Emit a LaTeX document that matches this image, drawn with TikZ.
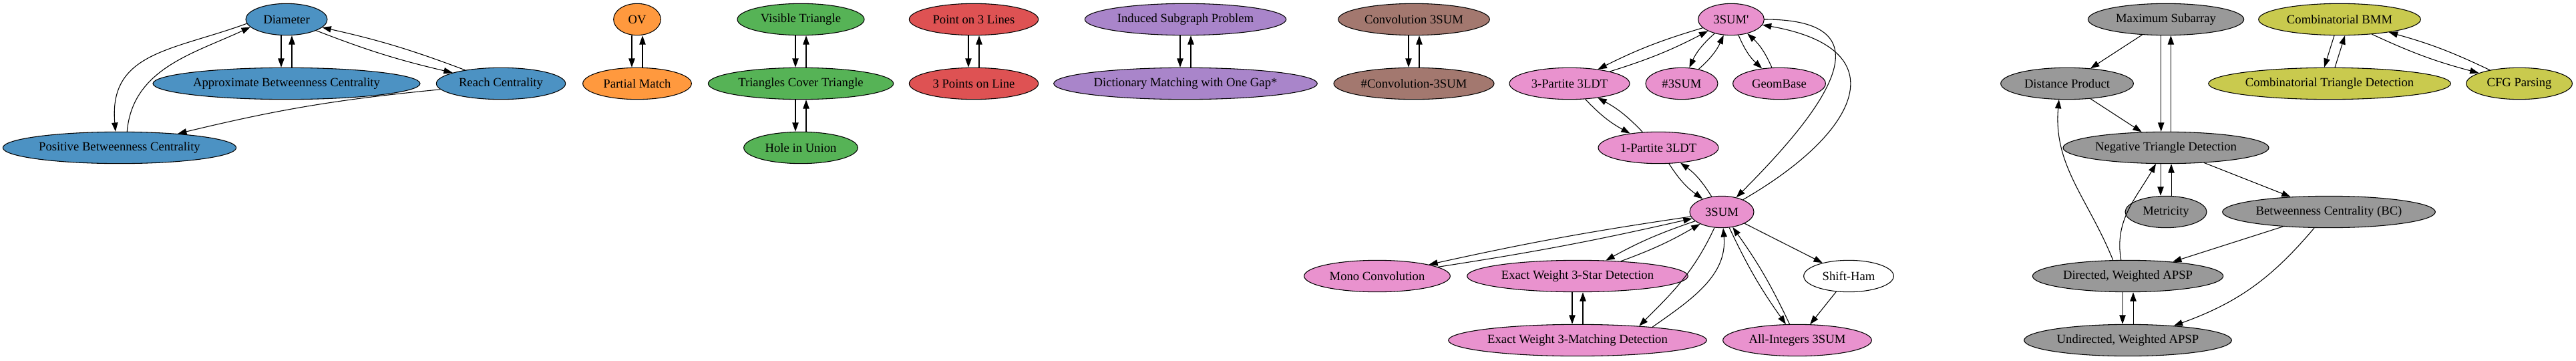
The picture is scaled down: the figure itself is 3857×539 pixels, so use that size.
\documentclass[tikz,border=0pt]{standalone}
\usepackage{fontspec}
\setmainfont{Liberation Serif}
\usetikzlibrary{shapes.geometric,arrows.meta}

\definecolor{cblue}{RGB}{76,146,195}
\definecolor{corange}{RGB}{255,153,62}
\definecolor{cgreen}{RGB}{86,179,86}
\definecolor{cred}{RGB}{222,82,83}
\definecolor{cpurple}{RGB}{169,133,202}
\definecolor{cbrown}{RGB}{163,120,111}
\definecolor{cpink}{RGB}{233,146,206}
\definecolor{cgray}{RGB}{153,153,153}
\definecolor{colive}{RGB}{201,202,78}

\tikzset{
  prob/.style={ellipse, draw=black, line width=0.8pt, inner sep=0pt, minimum height=35.5pt, font=\fontsize{14}{16}\selectfont},
  reduce/.style={-{Triangle[length=10pt,width=7pt]}, line width=0.8pt},
}

\begin{document}
\begin{tikzpicture}[x=0.75pt, y=0.75pt]
    \useasboundingbox (0,0) rectangle (3857,-539);

    % distance problems
    \node[prob, fill=cblue, minimum width=91.5pt] (dia) at (429,-29) {Diameter};
    \node[prob, fill=cblue, minimum width=300pt] (abc) at (429,-125) {Approximate Betweenness Centrality};
    \node[prob, fill=cblue, minimum width=145pt] (rc) at (750,-125) {Reach Centrality};
    \node[prob, fill=cblue, minimum width=262pt] (pbc) at (179,-221) {Positive Betweenness Centrality};

    \node[prob, fill=corange, minimum width=53pt] (ov) at (954,-29) {OV};
    \node[prob, fill=corange, minimum width=122pt] (pm) at (954,-125) {Partial Match};

    \node[prob, fill=cgreen, minimum width=142.5pt] (vt) at (1199,-29) {Visible Triangle};
    \node[prob, fill=cgreen, minimum width=208pt] (tct) at (1199,-125) {Triangles Cover Triangle};
    \node[prob, fill=cgreen, minimum width=128pt] (hu) at (1199,-221) {Hole in Union};

    \node[prob, fill=cred, minimum width=145pt] (pl) at (1458,-29) {Point on 3 Lines};
    \node[prob, fill=cred, minimum width=145pt] (tpl) at (1458,-125) {3 Points on Line};

    \node[prob, fill=cpurple, minimum width=226pt] (isp) at (1775,-29) {Induced Subgraph Problem};
    \node[prob, fill=cpurple, minimum width=296pt] (dmg) at (1775,-125) {Dictionary Matching with One Gap*};

    \node[prob, fill=cbrown, minimum width=170pt] (cs) at (2117,-29) {Convolution 3SUM};
    \node[prob, fill=cbrown, minimum width=180pt] (ncs) at (2117,-125) {\#Convolution-3SUM};

    % 3SUM family
    \node[prob, fill=cpink, minimum width=74pt] (sump) at (2592,-29) {3SUM\textquotesingle};
    \node[prob, fill=cpink, minimum width=135pt] (tpart) at (2350,-125) {3-Partite 3LDT};
    \node[prob, fill=cpink, minimum width=81pt] (nsum) at (2518,-125) {\#3SUM};
    \node[prob, fill=cpink, minimum width=104pt] (gb) at (2664,-125) {GeomBase};
    \node[prob, fill=cpink, minimum width=135pt] (opart) at (2483,-221) {1-Partite 3LDT};
    \node[prob, fill=cpink, minimum width=72pt] (sum) at (2578,-317) {3SUM};
    \node[prob, fill=cpink, minimum width=164pt] (mc) at (2062,-413) {Mono Convolution};
    \node[prob, fill=cpink, minimum width=248pt] (ews) at (2362,-413) {Exact Weight 3-Star Detection};
    \node[prob, fill=white, minimum width=101pt] (sh) at (2768,-413) {Shift-Ham};
    \node[prob, fill=cpink, minimum width=290pt] (ewm) at (2362,-509) {Exact Weight 3-Matching Detection};
    \node[prob, fill=cpink, minimum width=167pt] (ai) at (2691,-509) {All-Integers 3SUM};

    % APSP family
    \node[prob, fill=cgray, minimum width=175pt] (ms) at (3243,-29) {Maximum Subarray};
    \node[prob, fill=cgray, minimum width=149pt] (dp) at (3095,-125) {Distance Product};
    \node[prob, fill=cgray, minimum width=231pt] (ntd) at (3243,-221) {Negative Triangle Detection};
    \node[prob, fill=cgray, minimum width=91.5pt] (met) at (3243,-317) {Metricity};
    \node[prob, fill=cgray, minimum width=239pt] (bc) at (3487,-317) {Betweenness Centrality (BC)};
    \node[prob, fill=cgray, minimum width=214pt] (dw) at (3186,-413) {Directed, Weighted APSP};
    \node[prob, fill=cgray, minimum width=233pt] (uw) at (3186,-509) {Undirected, Weighted APSP};

    \node[prob, fill=colive, minimum width=182pt] (cb) at (3503,-29) {Combinatorial BMM};
    \node[prob, fill=colive, minimum width=272pt] (ctd) at (3488,-125) {Combinatorial Triangle Detection};
    \node[prob, fill=colive, minimum width=119pt] (cfg) at (3772,-125) {CFG Parsing};

    % reductions, blue
    \draw[reduce] ([xshift=-6pt]dia.south) -- ([xshift=-6pt]abc.north);
    \draw[reduce] ([xshift=6pt]abc.north) -- ([xshift=6pt]dia.south);
    \draw[reduce] (dia) to[bend right=4] (rc);
    \draw[reduce] (rc) to[bend right=4] (dia);
    \draw[reduce] (dia.186) to[out=200, in=95, looseness=1.2] (pbc.104);
    \draw[reduce] (pbc.65) to[out=85, in=205] (dia.192);
    \draw[reduce] (rc) to[bend right=4] (pbc);

    % vertical pairs
    \draw[reduce] ([xshift=-6pt]ov.south) -- ([xshift=-6pt]pm.north);
    \draw[reduce] ([xshift=6pt]pm.north) -- ([xshift=6pt]ov.south);
    \draw[reduce] ([xshift=-6pt]vt.south) -- ([xshift=-6pt]tct.north);
    \draw[reduce] ([xshift=6pt]tct.north) -- ([xshift=6pt]vt.south);
    \draw[reduce] ([xshift=-6pt]tct.south) -- ([xshift=-6pt]hu.north);
    \draw[reduce] ([xshift=6pt]hu.north) -- ([xshift=6pt]tct.south);
    \draw[reduce] ([xshift=-6pt]pl.south) -- ([xshift=-6pt]tpl.north);
    \draw[reduce] ([xshift=6pt]tpl.north) -- ([xshift=6pt]pl.south);
    \draw[reduce] ([xshift=-6pt]isp.south) -- ([xshift=-6pt]dmg.north);
    \draw[reduce] ([xshift=6pt]dmg.north) -- ([xshift=6pt]isp.south);
    \draw[reduce] ([xshift=-6pt]cs.south) -- ([xshift=-6pt]ncs.north);
    \draw[reduce] ([xshift=6pt]ncs.north) -- ([xshift=6pt]cs.south);

    % reductions, 3SUM
    \draw[reduce] (sump) to[bend right=5] (tpart);
    \draw[reduce] (tpart) to[bend right=5] (sump);
    \draw[reduce] (sump) to[bend right=12] (nsum);
    \draw[reduce] (nsum) to[bend right=12] (sump);
    \draw[reduce] (sump) to[bend right=12] (gb);
    \draw[reduce] (gb) to[bend right=12] (sump);
    \draw[reduce] (tpart) to[bend right=9] (opart);
    \draw[reduce] (opart) to[bend right=9] (tpart);
    \draw[reduce] (opart) to[bend right=11] (sum);
    \draw[reduce] (sum) to[bend right=11] (opart);
    \draw[reduce] (sum) to[out=30, in=-10, looseness=2] (sump);
    \draw[reduce] (sump) to[out=0, in=45, looseness=1.8] (sum);
    \draw[reduce] (sum) to[bend right=2] (mc);
    \draw[reduce] (mc) to[bend right=2] (sum);
    \draw[reduce] (sum) to[bend right=5] (ews);
    \draw[reduce] (ews) to[bend right=5] (sum);
    \draw[reduce] (sum) to[out=245, in=45] (ewm.13);
    \draw[reduce] (ewm.10) to[out=35, in=-85] (sum);
    \draw[reduce] (sum) to[bend right=5] (ai);
    \draw[reduce] (ai) to[bend right=5] (sum);
    \draw[reduce] (sum) -- (sh);
    \draw[reduce] (sh) -- (ai);
    \draw[reduce] ([xshift=-6pt]ews.south) -- ([xshift=-6pt]ewm.north);
    \draw[reduce] ([xshift=6pt]ewm.north) -- ([xshift=6pt]ews.south);

    % reductions, APSP
    \draw[reduce] (ms) -- (dp);
    \draw[reduce] ([xshift=-5.5pt]ms.south) -- ([xshift=-5.5pt]ntd.north);
    \draw[reduce] ([xshift=5.5pt]ntd.north) -- ([xshift=5.5pt]ms.south);
    \draw[reduce] (dp) -- (ntd);
    \draw[reduce] ([xshift=-6pt]ntd.south) -- ([xshift=-6pt]met.north);
    \draw[reduce] ([xshift=6pt]met.north) -- ([xshift=6pt]ntd.south);
    \draw[reduce] (ntd) -- (bc);
    \draw[reduce] (dw.133) to[out=112, in=265] (dp.243);
    \draw[reduce] (dw.113) to[out=100, in=240] (ntd.238);
    \draw[reduce] (bc) -- (dw);
    \draw[reduce] (bc) to[bend left=15] (uw);
    \draw[reduce] ([xshift=-6pt]dw.south) -- ([xshift=-6pt]uw.north);
    \draw[reduce] ([xshift=6pt]uw.north) -- ([xshift=6pt]dw.south);

    % reductions, BMM
    \draw[reduce] ([xshift=-6pt]cb.south) -- ([xshift=-6pt]ctd.north);
    \draw[reduce] ([xshift=6pt]ctd.north) -- ([xshift=6pt]cb.south);
    \draw[reduce] (cb) to[bend right=5] (cfg);
    \draw[reduce] (cfg) to[bend right=5] (cb);

\end{tikzpicture}
\end{document}
